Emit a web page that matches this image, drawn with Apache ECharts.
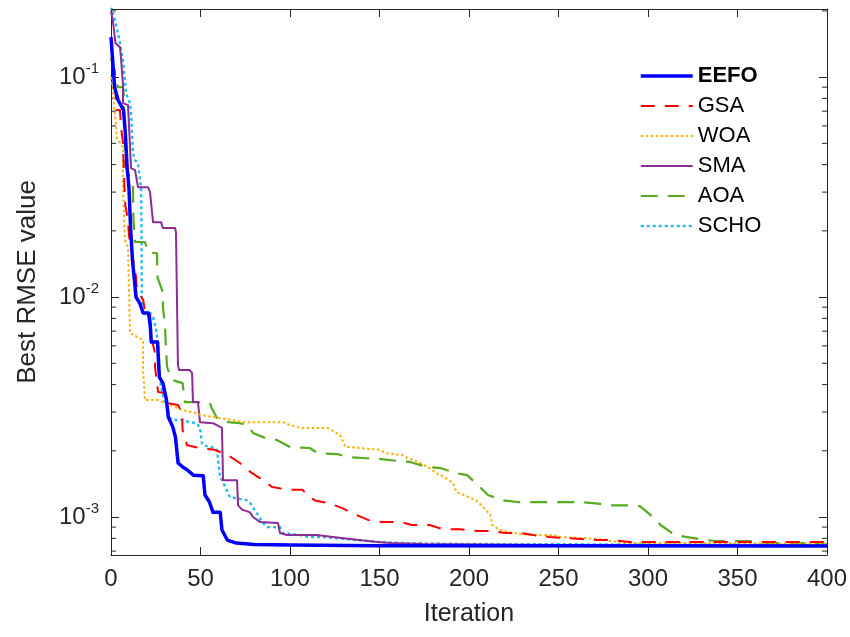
<!DOCTYPE html>
<html>
<head>
<meta charset="utf-8">
<script src="https://cdn.jsdelivr.net/npm/echarts@6/dist/echarts.min.js"></script>
<style>
html,body{margin:0;padding:0;background:#fff;}
#chart{width:850px;height:637px;}
</style>
</head>
<body>
<div id="chart"></div>
<script>
// ---- data (iteration, best RMSE) ----
const seriesNames = ['EEFO', 'GSA', 'WOA', 'SMA', 'AOA', 'SCHO'];
const xTicks = [0, 50, 100, 150, 200, 250, 300, 350, 400];
const yDecades = [0.001, 0.01, 0.1];

const EEFO = [[0,0.152],[2,0.09],[4,0.0785],[7,0.0708],[8,0.0556],[9,0.039],[10,0.0316],[11,0.0202],[12,0.0147],[14,0.01],[16,0.0094],[18,0.00846],[21,0.00846],[22,0.00731],[22.5,0.00624],[26,0.00624],[27,0.00433],[29,0.00406],[31,0.0034],[32,0.00285],[34.5,0.00257],[36,0.00231],[37.5,0.00176],[40,0.00169],[42.5,0.00164],[46,0.00155],[51.5,0.00154],[52.5,0.00126],[55,0.00117],[57,0.00105],[61,0.00105],[62,0.000873],[65,0.000786],[70,0.000761],[80,0.00075],[100,0.000746],[150,0.00074],[400,0.000738]];

const GSA = [[0,0.15],[1,0.111],[2,0.108],[3,0.0708],[5,0.0708],[5.6,0.0593],[6.7,0.0501],[7,0.042],[7.5,0.0316],[8,0.0262],[9.5,0.0224],[10,0.0191],[12.3,0.015],[14,0.0123],[14.5,0.0108],[18,0.0097],[19,0.00855],[21.8,0.00846],[22.3,0.00731],[22.5,0.00658],[24.6,0.00556],[24.6,0.00481],[25,0.00451],[26.3,0.0037],[30,0.00366],[31.3,0.0033],[37.4,0.00323],[39.7,0.00297],[40,0.00248],[42.5,0.00212],[49.7,0.00206],[58,0.00202],[65.4,0.00191],[72,0.00176],[78,0.0016],[85,0.00147],[90,0.00137],[99,0.00133],[107,0.00133],[111,0.00123],[114,0.00119],[121,0.00116],[129,0.0011],[135,0.00104],[143.6,0.00097],[151,0.00095],[161.5,0.00095],[168,0.00092],[178,0.00092],[185.5,0.00088],[195,0.00088],[204.5,0.000864],[213,0.000864],[220,0.000846],[228.5,0.000846],[236,0.000828],[245,0.000811],[271.5,0.000786],[279,0.000786],[290,0.00077],[301,0.00077],[316,0.00077],[400,0.00077]];

const WOA = [[0,0.1],[1,0.09],[2,0.0693],[3,0.0593],[3,0.0534],[6.7,0.048],[6.7,0.033],[7.8,0.0182],[9.5,0.0169],[10.6,0.00686],[11.7,0.00672],[17.9,0.00638],[17.9,0.00466],[19,0.0034],[26.3,0.0034],[40,0.00306],[48,0.00297],[50,0.00291],[68,0.00276],[74,0.0027],[96,0.0027],[100,0.00262],[106,0.00254],[121,0.00254],[128,0.00236],[131,0.00208],[134,0.00208],[150,0.00202],[154,0.00195],[163,0.00191],[166,0.00185],[172,0.00178],[178,0.00167],[182,0.00158],[186,0.00152],[191,0.00143],[193,0.0013],[197,0.00126],[204,0.00119],[208,0.00111],[212,0.00102],[213,0.00092],[217,0.000873],[225,0.000846],[234,0.000828],[247,0.000828],[251,0.000811],[264,0.000803],[272,0.000794],[283,0.00077],[290,0.000762],[320,0.000762],[400,0.000754]];

const SMA = [[0,0.2],[1,0.1816],[2.5,0.1428],[5,0.1368],[5.6,0.122],[6.7,0.092],[6.7,0.0762],[9.5,0.0746],[10.6,0.0731],[11.2,0.0386],[13.4,0.0378],[15.1,0.0316],[20.7,0.0316],[21.8,0.03],[23.5,0.0219],[27.9,0.0219],[29,0.0206],[35.8,0.0206],[36.3,0.0197],[37.4,0.00491],[38,0.00466],[44,0.00466],[45.3,0.00451],[45.8,0.00333],[48.6,0.00333],[49.7,0.0027],[57,0.00267],[62,0.00254],[62.6,0.00147],[70.4,0.00147],[71,0.00113],[73.2,0.00108],[77.7,0.00105],[79.3,0.001],[83.2,0.00095],[93.3,0.00094],[94.4,0.000846],[98.3,0.000828],[111,0.000828],[115,0.000828],[124,0.000811],[133.5,0.000794],[148.6,0.00077],[156,0.000762],[174,0.000754],[250,0.000746],[400,0.000746]];

const AOA = [[0,0.122],[1.1,0.111],[2.2,0.102],[3.9,0.09],[6.7,0.09],[7.2,0.0811],[7.3,0.0686],[7.8,0.0574],[7.8,0.0406],[9.5,0.0366],[11.2,0.034],[12.3,0.0316],[12.5,0.0229],[13.4,0.0178],[19,0.0178],[20.7,0.016],[25.7,0.0158],[26,0.0123],[29,0.0105],[29,0.009],[30.2,0.00746],[30.5,0.00638],[31,0.00534],[31.3,0.00481],[34,0.0042],[40,0.00406],[41.3,0.00333],[48,0.00333],[55.3,0.0033],[56,0.00316],[59.2,0.00282],[65.4,0.0027],[72,0.00267],[76.5,0.00262],[79.3,0.00241],[86,0.00229],[92.7,0.00224],[100,0.00208],[111,0.00206],[115.6,0.00195],[126.8,0.00193],[132.4,0.00187],[143,0.00185],[149,0.00184],[160,0.0018],[167,0.00178],[176.5,0.00169],[184,0.00167],[193,0.00158],[199,0.00155],[206,0.00137],[210.6,0.00126],[219,0.00119],[227,0.00117],[262,0.00117],[272,0.00115],[279,0.00113],[290,0.00113],[295.5,0.00112],[302.8,0.001],[307,0.00092],[315,0.000828],[322,0.000811],[332,0.000786],[338.5,0.000778],[356,0.000778],[366.5,0.000762],[385,0.000762],[392,0.000754],[400,0.000754]];

const SCHO = [[0,0.21],[1.1,0.206],[2.2,0.1816],[3.9,0.158],[5,0.1428],[6.7,0.1194],[7.8,0.0969],[8.4,0.0846],[10.6,0.0762],[11.2,0.0686],[12.3,0.0451],[13.4,0.042],[15.1,0.0406],[16.2,0.034],[16.8,0.0316],[16.8,0.0297],[16.9,0.0285],[17.3,0.00846],[21.8,0.00846],[23.5,0.00811],[25.7,0.00686],[25.7,0.00638],[26.3,0.00618],[27.4,0.0042],[28,0.0039],[30.2,0.0033],[31.3,0.00316],[33,0.00282],[34.6,0.00276],[40.2,0.00276],[44,0.0027],[48,0.00267],[49.7,0.00254],[50.8,0.00217],[51.4,0.00212],[58,0.00206],[59.2,0.00202],[60.9,0.00152],[62.6,0.00144],[66.5,0.00123],[69.3,0.00122],[76,0.00119],[77.7,0.00116],[84.9,0.00094],[87.2,0.0009],[94.4,0.0009],[96,0.000846],[105.6,0.000828],[111,0.000811],[118.4,0.000811],[124,0.000803],[137.4,0.000786],[150,0.00077],[163,0.000762],[200,0.000754],[400,0.000746]];

const seriesData = [EEFO, GSA, WOA, SMA, AOA, SCHO];
const colors = ['#0000FF', '#FF0000', '#FFB000', '#8E2C96', '#58AA1E', '#1CBDEC'];
const widths = [3.5, 2, 2, 2, 2.2, 2.4];
const dashes = ['solid', [14, 10], [2.5, 2.5], 'solid', [17, 10], [3, 3]];

const Y_MIN = 6.72e-4, Y_MAX = 0.204;
const FONT = '"Liberation Sans", Arial, Helvetica, sans-serif';
const AXC = '#262626';

const chart = echarts.init(document.getElementById('chart'), null, {renderer: 'canvas'});

function yFmt(v) {
  const e = Math.log10(v);
  if (Math.abs(e - Math.round(e)) < 1e-6) return '{b|10}{s|' + Math.round(e) + '}';
  return '';
}

const legendData = seriesNames.map((n, i) => {
  const item = {
    name: n,
    lineStyle: {width: widths[i]},
    itemStyle: {color: 'rgba(0,0,0,0)', borderColor: 'rgba(0,0,0,0)', borderWidth: 0, opacity: 0}
  };
  if (i === 0) item.textStyle = {fontWeight: 'bold'};
  return item;
});

const option = {
  animation: false,
  backgroundColor: '#ffffff',
  grid: {left: 111, right: 23, top: 9, bottom: 82, containLabel: false},
  legend: {
    show: true,
    orient: 'vertical', left: 634, top: 59,
    itemWidth: 52, itemHeight: 14, itemGap: 6,
    textStyle: {fontFamily: FONT, fontSize: 22, color: '#000', lineHeight: 24},
    data: legendData
  },
  xAxis: [{
    type: 'value', min: xTicks[0], max: xTicks[xTicks.length - 1], interval: 50,
    name: 'Iteration', nameLocation: 'middle', nameGap: 47,
    nameTextStyle: {fontFamily: FONT, fontSize: 25, color: AXC},
    axisLine: {show: true, onZero: false, lineStyle: {color: AXC, width: 1}},
    axisTick: {show: true, inside: true, length: 8, lineStyle: {color: AXC}},
    axisLabel: {fontFamily: FONT, fontSize: 24, color: AXC, margin: 12},
    splitLine: {show: false}
  }, {
    type: 'value', position: 'top', min: xTicks[0], max: xTicks[xTicks.length - 1], interval: 50,
    axisLine: {show: true, onZero: false, lineStyle: {color: AXC, width: 1}},
    axisTick: {show: true, inside: true, length: 8, lineStyle: {color: AXC}},
    axisLabel: {show: false}, splitLine: {show: false}
  }],
  yAxis: [{
    type: 'log', logBase: 10, min: Y_MIN, max: Y_MAX,
    name: 'Best RMSE value', nameLocation: 'middle', nameGap: 70,
    nameTextStyle: {fontFamily: FONT, fontSize: 26, color: AXC},
    axisLine: {show: true, onZero: false, lineStyle: {color: AXC, width: 1}},
    axisTick: {show: true, inside: true, length: 8, lineStyle: {color: AXC}},
    axisLabel: {
      formatter: yFmt, margin: 12,
      rich: {
        b: {fontFamily: FONT, fontSize: 24, color: AXC},
        s: {fontFamily: FONT, fontSize: 15, color: AXC, verticalAlign: 'bottom', padding: [0, 0, 16, 0]}
      }
    },
    splitLine: {show: false}
  }, {
    type: 'log', logBase: 10, min: Y_MIN, max: Y_MAX, position: 'right',
    axisLine: {show: true, onZero: false, lineStyle: {color: AXC, width: 1}},
    axisTick: {show: true, inside: true, length: 8, lineStyle: {color: AXC}},
    axisLabel: {show: false}, splitLine: {show: false}
  }],
  series: seriesNames.map((n, i) => ({
    name: n, type: 'line', data: seriesData[i],
    xAxisIndex: 0, yAxisIndex: 0,
    showSymbol: false, symbol: 'none', smooth: false,
    z: 10 - i,
    lineStyle: {color: colors[i], width: widths[i], type: dashes[i], cap: 'butt', join: 'round'},
    itemStyle: {color: colors[i]},
    emphasis: {disabled: true}
  }))
};
chart.setOption(option);

// minor ticks on the log axis (2..9 x each decade), placed through the axis scale
function addMinorTicks() {
  const g = [];
  const xl = chart.convertToPixel({xAxisIndex: 0}, xTicks[0]);
  const xr = chart.convertToPixel({xAxisIndex: 0}, xTicks[xTicks.length - 1]);
  for (let d = -4; d <= 0; d++) {
    for (let k = 2; k <= 9; k++) {
      const v = k * Math.pow(10, d);
      if (v <= Y_MIN || v >= Y_MAX) continue;
      const y = chart.convertToPixel({yAxisIndex: 0}, v);
      g.push({type: 'line', shape: {x1: xl, y1: y, x2: xl + 5, y2: y}, style: {stroke: AXC, lineWidth: 1}, silent: true});
      g.push({type: 'line', shape: {x1: xr, y1: y, x2: xr - 5, y2: y}, style: {stroke: AXC, lineWidth: 1}, silent: true});
    }
  }
  chart.setOption({graphic: g});
}
addMinorTicks();
</script>
</body>
</html>
